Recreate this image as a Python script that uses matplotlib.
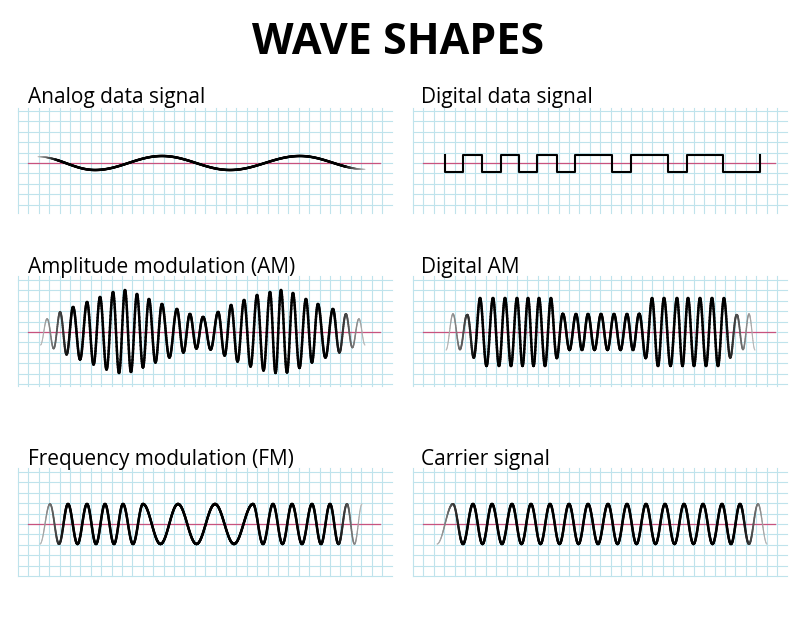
import numpy as np
import matplotlib
matplotlib.use("Agg")
import matplotlib.pyplot as plt
from matplotlib.collections import LineCollection

# ---- data (pixel-space readings of the reference) ----
titles = ["Analog data signal", "Digital data signal", "Amplitude modulation (AM)",
          "Digital AM", "Frequency modulation (FM)", "Carrier signal"]

# analog: extrema x positions and relative values
analog_x = [38, 95, 162, 230, 300, 365]
analog_v = [0.9, -1, 1, -1, 1, -0.9]
analog_amp = 7

# digital: edge positions and levels (1 high, 0 low) between edges
dig_edges = [445, 463, 482, 501, 519, 537, 557, 575, 612, 631, 668, 687, 723, 760]
dig_levels = [0, 1, 0, 1, 0, 1, 0, 1, 0, 1, 0, 1, 0]

# AM: peak x positions and amplitudes (px)
am_peaks = [47, 60, 73, 87, 100, 113, 125, 137, 149, 162, 177, 190, 203, 218, 231,
            244, 257, 270, 281, 293, 306, 318, 333, 346, 359]
am_amp = [13, 20, 25, 30, 35, 40, 42, 38, 33, 28, 23, 18, 15, 20, 27,
          32, 37, 40, 42, 39, 33, 28, 23, 18, 13]

# Digital AM
dam_peaks = [453, 467, 480, 493, 505, 517, 528, 539, 551, 563, 576, 588, 601, 614,
             627, 639, 652, 664, 677, 688, 700, 712, 724, 737, 749]
dam_amp = [18, 17, 34, 34, 34, 34, 34, 34, 34, 18, 18, 18, 18, 18,
           18, 18, 34, 34, 34, 34, 34, 34, 34, 17, 18]

# FM: peak positions
fm_peaks = [50, 68, 87, 105, 123, 143, 178, 215, 253, 273, 292, 312, 330, 347, 362]
fm_start, fm_amp = 40, 20

# carrier
car_peaks = [453, 473, 492, 512, 531, 550, 569, 588, 608, 627, 646, 665, 684, 703, 722, 740, 758]
car_start, car_amp = 437, 20

# ---- layout ----
W, H = 800, 619
fig = plt.figure(figsize=(8, 6.19), dpi=100)
ax = fig.add_axes([0, 0, 1, 1])
ax.set_xlim(0, W); ax.set_ylim(H, 0); ax.axis("off")

FONT = "Open Sans"
ax.text(398, 42, "WAVE SHAPES", ha="center", va="center", fontsize=31,
        fontweight="bold", family=FONT)

cols = [(18, 392), (413, 787)]
rows = [(108, 213, 163, 106), (276, 386, 332, 276), (468, 576, 524, 468)]
grid_c = "#bfe3ec"
mid_c = "#c8527e"
for ri, (y0, y1, yc, ty) in enumerate(rows):
    for ci, (x0, x1) in enumerate(cols):
        for gx in np.arange(x0, x1 + 0.1, 10.4):
            ax.plot([gx, gx], [y0, y1], color=grid_c, lw=0.8, zorder=1)
        for gy in np.arange(yc - 10.4 * int((yc - y0) / 10.4), y1 + 0.1, 10.4):
            ax.plot([x0, x1], [gy, gy], color=grid_c, lw=0.8, zorder=1)
        ax.plot([x0 + 10, x1 - 12], [yc, yc], color=mid_c, lw=0.9, zorder=2)
        ax.text(x0 + 10 if ci == 0 else x0 + 8, ty - 3, titles[ri * 2 + ci],
                fontsize=15, family=FONT, va="baseline", ha="left")


def draw(x, y, fade=25, lw=1.8):
    pts = np.column_stack([x, y])
    segs = np.stack([pts[:-1], pts[1:]], axis=1)
    xm = (x[:-1] + x[1:]) / 2
    d = np.minimum(xm - x[0], x[-1] - xm)
    t = np.clip(d / fade, 0, 1) if fade else np.ones_like(d)
    g = 0.75 * (1 - t)
    colors = [(v, v, v) for v in g]
    widths = 0.7 + (lw - 0.7) * t
    ax.add_collection(LineCollection(segs, colors=colors, linewidths=widths,
                                     capstyle="round", joinstyle="round",
                                     antialiased=True, zorder=3))


def from_peaks(peaks, amps, yc, start=None, end=None):
    peaks = list(peaks)
    px = [start if start is not None else peaks[0] - (peaks[1] - peaks[0]) / 2] + peaks
    ph = [-np.pi] + [2 * np.pi * k for k in range(len(peaks))]
    if end is not None:
        px.append(end); ph.append(ph[-1] + np.pi)
    x = np.linspace(px[0], px[-1], 1500)
    phase = np.interp(x, px, ph)
    amp = np.interp(x, peaks, amps) if np.ndim(amps) else np.full_like(x, amps)
    return x, yc - amp * np.cos(phase)

# analog
xa = np.linspace(analog_x[0], analog_x[-1], 600)
seg = np.clip(np.searchsorted(analog_x, xa) - 1, 0, len(analog_x) - 2)
xa0 = np.array(analog_x)[seg]; xa1 = np.array(analog_x)[seg + 1]
va0 = np.array(analog_v)[seg]; va1 = np.array(analog_v)[seg + 1]
f = (xa - xa0) / (xa1 - xa0)
va = va0 + (va1 - va0) * (1 - np.cos(np.pi * f)) / 2
draw(xa, 163 - analog_amp * va, fade=20)

# digital
hi, lo = 155, 172
dx = [dig_edges[0]]; dy = [hi]
for i, lv in enumerate(dig_levels):
    yv = hi if lv else lo
    dx += [dig_edges[i], dig_edges[i + 1]]; dy += [yv, yv]
dx.append(dig_edges[-1]); dy.append(hi)
ax.plot(dx, dy, color="black", lw=1.5, zorder=3)

# AM
x, y = from_peaks(am_peaks, am_amp, 332, end=365)
draw(x, y, fade=30)
x, y = from_peaks(dam_peaks, dam_amp, 332, end=755)
draw(x, y, fade=30)
# FM
x, y = from_peaks(fm_peaks, fm_amp, 524, start=fm_start)
draw(x, y, fade=25)
# carrier
x, y = from_peaks(car_peaks, car_amp, 524, start=car_start, end=767)
draw(x, y, fade=25)

fig.savefig("out.png", dpi=100, facecolor="white")
